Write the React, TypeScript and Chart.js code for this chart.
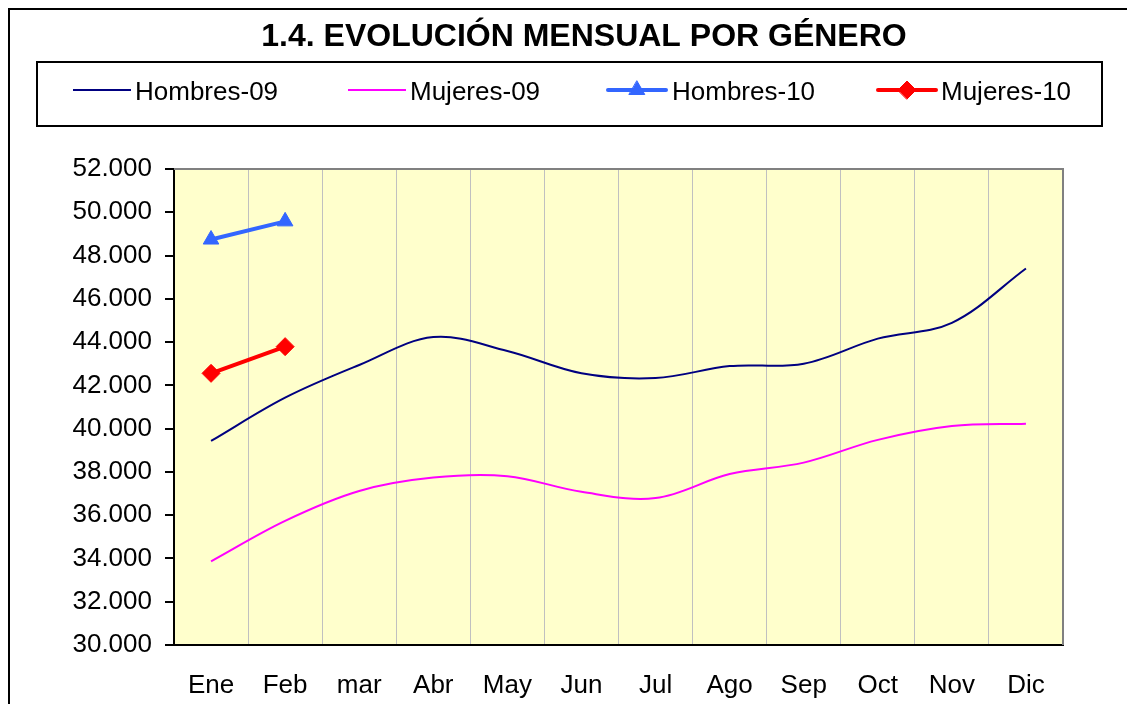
import React, { useEffect, useRef } from 'react';
import { Chart, registerables } from 'chart.js';

Chart.register(...registerables);

const TITLE = '1.4. EVOLUCIÓN MENSUAL POR GÉNERO';
const MONTHS = ['Ene', 'Feb', 'mar', 'Abr', 'May', 'Jun', 'Jul', 'Ago', 'Sep', 'Oct', 'Nov', 'Dic'];
const HOMBRES_09 = [39430, 41430, 42940, 44230, 43590, 42560, 42340, 42890, 43000, 44160, 44890, 47400];
const MUJERES_09 = [33870, 35740, 37120, 37740, 37800, 37080, 36790, 37900, 38430, 39480, 40120, 40230];
const HOMBRES_10 = [48740, 49580, null, null, null, null, null, null, null, null, null, null];
const MUJERES_10 = [42555, 43790, null, null, null, null, null, null, null, null, null, null];
const Y_MIN = 30000;
const Y_MAX = 52000;
const Y_STEP = 2000;

const FONT = '"Liberation Sans", Arial, sans-serif';
const W = 1127;
const H = 696;

// legend layout (canvas px)
const LEG_BOX = { left: 29, top: 54, right: 1094, bottom: 118 };
const LEG_SAMPLE_X = [65, 340, 600, 870];
const LEG_TEXT_X = [127, 402, 664, 933];
const LEG_SAMPLE_LEN = 58;
const LEG_Y = 84;

const fmt = (v: number) => String(Math.round(v)).replace(/\B(?=(\d{3})+(?!\d))/g, '.');

function drawMarker(ctx: CanvasRenderingContext2D, style: string, x: number, y: number, r: number, color: string) {
  ctx.save();
  ctx.fillStyle = color;
  ctx.strokeStyle = color;
  ctx.lineWidth = 1;
  ctx.beginPath();
  if (style === 'triangle') {
    ctx.moveTo(x, y - r);
    ctx.lineTo(x + r * Math.sin((2 * Math.PI) / 3), y - r * Math.cos((2 * Math.PI) / 3));
    ctx.lineTo(x + r * Math.sin((4 * Math.PI) / 3), y - r * Math.cos((4 * Math.PI) / 3));
  } else {
    ctx.moveTo(x - r, y);
    ctx.lineTo(x, y - r);
    ctx.lineTo(x + r, y);
    ctx.lineTo(x, y + r);
  }
  ctx.closePath();
  ctx.fill();
  ctx.stroke();
  ctx.restore();
}

const decorPlugin = {
  id: 'decor',
  beforeDraw(chart: any) {
    const { ctx, chartArea: a } = chart;
    ctx.save();
    ctx.fillStyle = '#FFFFCC';
    ctx.fillRect(a.left, a.top, a.right - a.left, a.bottom - a.top);
    ctx.restore();
  },
  beforeDatasetsDraw(chart: any) {
    const { ctx, chartArea: a } = chart;
    ctx.save();
    ctx.strokeStyle = '#808080';
    ctx.lineWidth = 2;
    ctx.beginPath();
    ctx.moveTo(a.left, a.top);
    ctx.lineTo(a.right, a.top);
    ctx.lineTo(a.right, a.bottom);
    ctx.stroke();
    ctx.restore();
  },
  afterDraw(chart: any) {
    const ctx: CanvasRenderingContext2D = chart.ctx;
    ctx.save();
    // title
    ctx.fillStyle = '#000';
    ctx.font = `bold 32px ${FONT}`;
    ctx.textAlign = 'center';
    ctx.textBaseline = 'middle';
    ctx.fillText(TITLE, 576, 29);
    // legend box
    ctx.lineWidth = 2;
    ctx.strokeStyle = '#000';
    ctx.strokeRect(LEG_BOX.left, LEG_BOX.top, LEG_BOX.right - LEG_BOX.left, LEG_BOX.bottom - LEG_BOX.top);
    ctx.font = `26px ${FONT}`;
    ctx.textAlign = 'left';
    chart.data.datasets.forEach((ds: any, i: number) => {
      const sx = LEG_SAMPLE_X[i];
      ctx.strokeStyle = ds.borderColor;
      ctx.lineWidth = ds.borderWidth;
      ctx.lineCap = ds.pointRadius > 0 ? 'round' : 'butt';
      ctx.beginPath();
      ctx.moveTo(sx, LEG_Y - 2);
      ctx.lineTo(sx + LEG_SAMPLE_LEN, LEG_Y - 2);
      ctx.stroke();
      if (ds.pointRadius > 0) {
        drawMarker(ctx, ds.pointStyle, sx + LEG_SAMPLE_LEN / 2, LEG_Y - 2, 9, ds.borderColor);
      }
      ctx.fillStyle = '#000';
      ctx.fillText(ds.label, LEG_TEXT_X[i], LEG_Y + 1);
    });
    ctx.restore();
  },
};

export default function App() {
  const ref = useRef<HTMLCanvasElement>(null);
  useEffect(() => {
    document.documentElement.style.overflow = 'hidden';
    const chart = new Chart(ref.current as HTMLCanvasElement, {
      type: 'line',
      data: {
        labels: MONTHS,
        datasets: [
          {
            label: 'Hombres-09',
            data: HOMBRES_09,
            borderColor: '#000080',
            backgroundColor: '#000080',
            borderWidth: 2,
            pointRadius: 0,
            tension: 0.35,
          },
          {
            label: 'Mujeres-09',
            data: MUJERES_09,
            borderColor: '#FF00FF',
            backgroundColor: '#FF00FF',
            borderWidth: 2,
            pointRadius: 0,
            tension: 0.35,
          },
          {
            label: 'Hombres-10',
            data: HOMBRES_10,
            borderColor: '#3366FF',
            backgroundColor: '#3366FF',
            borderWidth: 4,
            pointStyle: 'triangle',
            pointRadius: 9,
            pointBorderWidth: 1,
            tension: 0,
          },
          {
            label: 'Mujeres-10',
            data: MUJERES_10,
            borderColor: '#FF0000',
            backgroundColor: '#FF0000',
            borderWidth: 4,
            pointStyle: 'rectRot',
            pointRadius: 9,
            pointBorderWidth: 1,
            tension: 0,
          },
        ],
      },
      options: {
        responsive: false,
        animation: false,
        layout: { padding: { left: 0, right: 72, top: 161, bottom: 0 } },
        plugins: {
          legend: { display: false },
          title: { display: false },
          tooltip: { enabled: false },
        },
        scales: {
          x: {
            offset: true,
            grid: { offset: true, color: '#C0C0C0', lineWidth: 1, drawTicks: false },
            border: { color: '#000', width: 2 },
            ticks: { color: '#000', font: { family: FONT, size: 26 }, padding: 25, maxRotation: 0 },
            afterFit: (s: any) => { s.height = 59; },
          },
          y: {
            min: Y_MIN,
            max: Y_MAX,
            grid: { drawOnChartArea: false, color: '#000', tickLength: 9, lineWidth: 2 },
            border: { color: '#000', width: 2 },
            ticks: {
              stepSize: Y_STEP,
              color: '#000',
              font: { family: FONT, size: 26 },
              padding: 13,
              callback: (v: any) => fmt(Number(v)),
            },
            afterFit: (s: any) => { s.width = 166; },
          },
        },
      },
      plugins: [decorPlugin],
    } as any);
    return () => chart.destroy();
  }, []);

  return (
    <div style={{ position: 'relative', width: W + 8, height: H, overflow: 'hidden', background: '#fff' }}>
      <div
        style={{
          position: 'absolute',
          left: 0,
          top: 0,
          width: 1300,
          height: 900,
          border: '2px solid #000',
          boxSizing: 'border-box',
        }}
      />
      <canvas ref={ref} width={W} height={H} style={{ position: 'absolute', left: 0, top: 0 }} />
    </div>
  );
}
